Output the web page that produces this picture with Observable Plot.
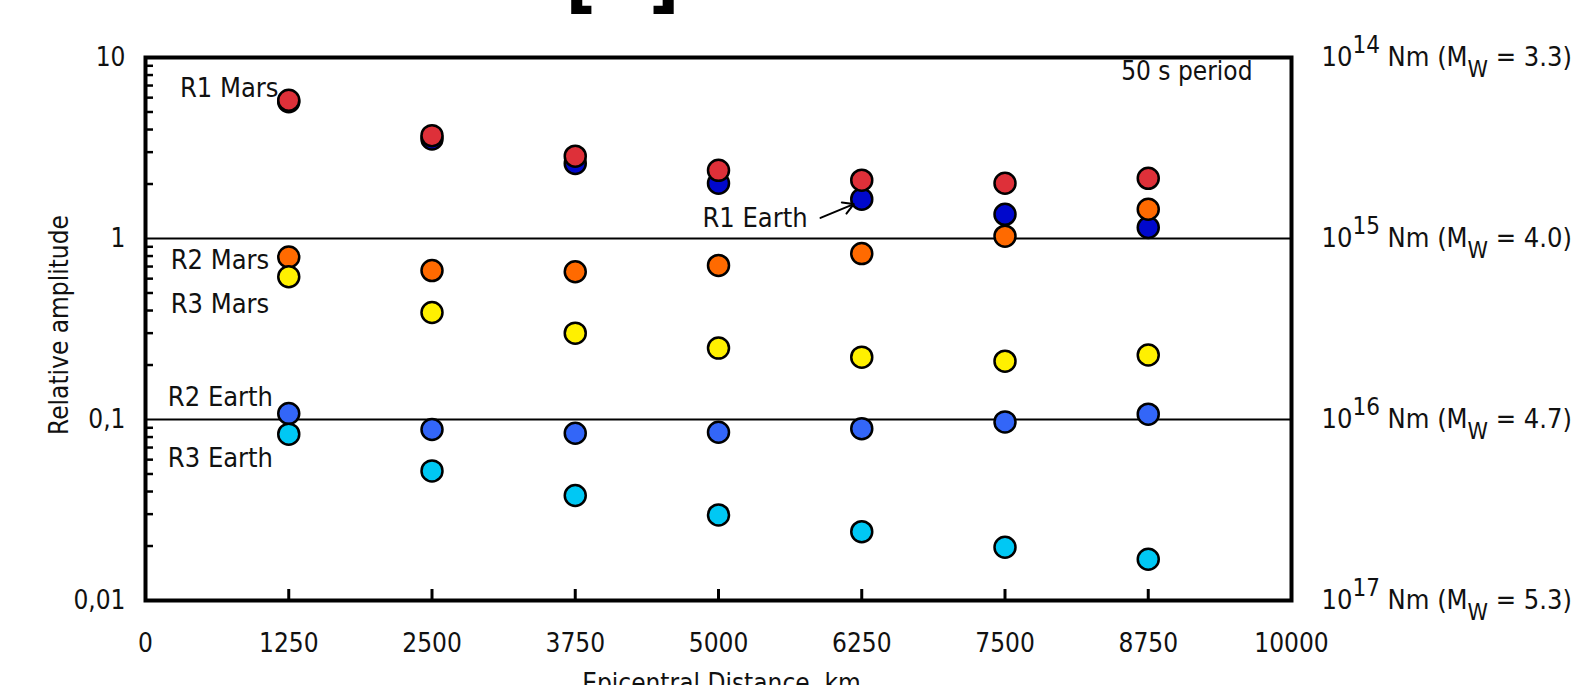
<!DOCTYPE html>
<html><head><meta charset="utf-8">
<script src="https://cdn.jsdelivr.net/npm/d3@7"></script>
<script src="https://cdn.jsdelivr.net/npm/@observablehq/plot@0.6"></script>
<style>
body{margin:0;background:#fff;overflow:hidden}
svg{display:block}
</style>
</head><body><div id="chart"></div>
<script>
// ---- data ----
const distances = [1250, 2500, 3750, 5000, 6250, 7500, 8750];
const r1Earth = [5.7, 3.55, 2.6, 2.02, 1.65, 1.36, 1.15];
const r1Mars  = [5.8, 3.7, 2.85, 2.38, 2.1, 2.02, 2.15];
const r2Mars  = [0.79, 0.665, 0.655, 0.71, 0.825, 1.03, 1.45];
const r3Mars  = [0.615, 0.39, 0.30, 0.248, 0.221, 0.21, 0.227];
const r2Earth = [0.108, 0.088, 0.084, 0.085, 0.089, 0.097, 0.107];
const r3Earth = [0.083, 0.052, 0.038, 0.0297, 0.024, 0.0197, 0.0169];

const seriesNames  = ["R1 Earth", "R1 Mars", "R2 Mars", "R3 Mars", "R2 Earth", "R3 Earth"];
const seriesColors = ["#0008cc", "#de3039", "#ff6a00", "#fff000", "#3366f8", "#00c8f4"];
const seriesValues = [r1Earth, r1Mars, r2Mars, r3Mars, r2Earth, r3Earth];

const xTicks = [0, 1250, 2500, 3750, 5000, 6250, 7500, 8750, 10000];
const yTicks = [10, 1, 0.1, 0.01];
const yTickLabels = ["10", "1", "0,1", "0,01"];

const momentExps = ["14", "15", "16", "17"];
const momentMw = ["3.3", "4.0", "4.7", "5.3"];

// series labels (anchored in data space)
const labelTexts = ["R1 Mars", "R2 Mars", "R3 Mars", "R2 Earth", "R3 Earth", "R1 Earth"];
const labelX = [300, 220, 220, 195, 195, 4860];
const labelY = [6.75, 0.756, 0.43, 0.132, 0.061, 1.29];

const points = seriesNames.flatMap((name, i) =>
  distances.map((d, j) => ({series: name, distance: d, amp: seriesValues[i][j], color: seriesColors[i]})));

const labels = labelTexts.map((t, i) => ({text: t, x: labelX[i], y: labelY[i]}));
const moments = yTicks.map((v, i) => ({y: v, text: `10${momentExps[i]} Nm (MW = ${momentMw[i]})`}));

const minorTicks = [0.01, 0.1, 1].flatMap(b => d3.range(2, 10).map(k => b * k));

const FONT = "'DejaVu Sans Condensed', 'DejaVu Sans', sans-serif";

const chart = Plot.plot({
  width: 1581,
  height: 685,
  marginLeft: 145,
  marginRight: 290,
  marginTop: 57,
  marginBottom: 85,
  style: {fontFamily: FONT, fontSize: "26px", fontStretch: "condensed", color: "#111", background: "#fff", overflow: "visible"},
  x: {domain: [0, 10000]},
  y: {type: "log", domain: [0.01, 10]},
  color: {type: "identity"},
  marks: [
    Plot.ruleY([1, 0.1], {stroke: "black", strokeWidth: 2}),
    // minor y ticks inside the frame
    Plot.axisY(minorTicks, {tickSize: -8, text: null, strokeWidth: 2.5, stroke: "black"}),
    Plot.axisY(yTicks, {tickSize: 0, tickPadding: 20, tickFormat: d => yTickLabels[yTicks.indexOf(d)], fontSize: 26, label: null}),
    // x ticks inward
    Plot.axisX(xTicks, {tickSize: -11, text: null, strokeWidth: 3, stroke: "black"}),
    Plot.axisX(xTicks, {tickSize: 0, tickPadding: 33, tickFormat: d => String(d), fontSize: 26, label: null}),
    Plot.frame({stroke: "black", strokeWidth: 4}),
    Plot.dot(points, {x: "distance", y: "amp", r: 10.5, fill: "color", stroke: "black", strokeWidth: 2.5}),
    Plot.text(labels, {x: "x", y: "y", text: "text", textAnchor: "start", fontSize: 27, fill: "#111"}),
    Plot.arrow([{x1: 5890, y1: 1.3, x2: 6180, y2: 1.55}], {x1: "x1", y1: "y1", x2: "x2", y2: "y2", stroke: "black", strokeWidth: 2, headLength: 12}),
    Plot.text(["50 s period"], {frameAnchor: "top-right", dx: -39, dy: 14, textAnchor: "end", lineAnchor: "middle", fontSize: 26, fill: "#111"}),
    Plot.text(moments, {x: () => 10000, y: "y", text: "text", textAnchor: "start", dx: 30, fontSize: 27, fill: "#111"}),
    Plot.text(["Relative amplitude"], {frameAnchor: "left", dx: -86, dy: -4, rotate: -90, textAnchor: "middle", fontSize: 26, fill: "#111"}),
    Plot.text(["Epicentral Distance, km"], {frameAnchor: "bottom", dx: 3, dy: 73, lineAnchor: "top", fontSize: 26, fill: "#111"}),
    Plot.text(["["], {frameAnchor: "top-left", dx: 420, dy: -77, textAnchor: "start", lineAnchor: "middle", fontSize: 74, fontWeight: "bold", fill: "black"}),
    Plot.text(["]"], {frameAnchor: "top-left", dx: 534, dy: -77, textAnchor: "end", lineAnchor: "middle", fontSize: 74, fontWeight: "bold", fill: "black"})
  ]
});

// superscript / subscript for moment labels
d3.select(chart).selectAll("text").filter(function() { return /^10\d\d Nm \(MW = /.test(this.textContent); })
  .each(function() {
    const m = this.textContent.match(/^10(\d\d) Nm \(MW = ([\d.]+)\)$/);
    const t = d3.select(this);
    t.text(null);
    t.append("tspan").text("10");
    t.append("tspan").attr("dy", "-13").attr("font-size", 24).text(m[1]);
    t.append("tspan").attr("dy", "13").text(" Nm (M");
    t.append("tspan").attr("dy", "11").attr("font-size", 23).text("W");
    t.append("tspan").attr("dy", "-11").text(` = ${m[2]})`);
  });

document.getElementById("chart").appendChild(chart);
</script>
</body></html>
